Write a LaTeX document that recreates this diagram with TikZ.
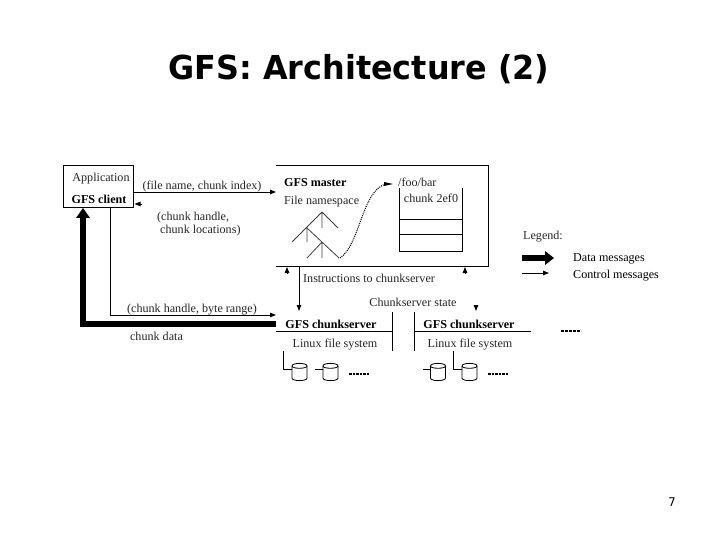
\documentclass[tikz,border=0pt]{standalone}
\usepackage{fontspec}
\setmainfont{Liberation Serif}
\newfontfamily\titlefont[FakeStretch=0.965]{DejaVu Sans}
\usetikzlibrary{arrows.meta,calc}
\tikzset{
  lbl/.style={inner sep=0pt,yshift=-1.3pt,font=\fontsize{12.1}{14}\selectfont,text=black!85},
  blbl/.style={lbl,font=\fontsize{12.1}{14}\selectfont\bfseries,text=black},
  thin line/.style={draw=black,line width=0.9pt},
  ctrl/.style={thin line,-{Triangle[length=6pt,width=4.5pt]}},
  disk/.pic={
    \draw[black,line width=0.8pt] (0,0) -- (0,12) .. controls (0,15.5) and (15,15.5) .. (15,12) -- (15,0)
      .. controls (15,-3.5) and (0,-3.5) .. (0,0);
    \draw[black,line width=0.8pt] (0,12) .. controls (0,9) and (15,9) .. (15,12);
  },
}
\begin{document}
\begin{tikzpicture}[x=1pt,y=-1pt]
\useasboundingbox[fill=white] (0,0) rectangle (720,540);
% title and page number
\node[inner sep=0pt,font=\titlefont\fontsize{33}{38}\selectfont\bfseries] (title) at (359,69) {GFS: Architecture (2)};
\node[inner sep=0pt,font=\titlefont\fontsize{12}{14}\selectfont] (page) at (672,502) {7};
% client
\node[draw,line width=0.9pt,minimum width=70pt,minimum height=42pt,inner sep=0pt] (client) at (98,186.5) {};
\node[lbl] (app) at (101,177) {Application};
\node[blbl,yshift=1.3pt] (gfsc) at (99,199) {GFS client};
% master outline
\coordinate (mtl) at (276,165);
\coordinate (mtr) at (488,165);
\coordinate (mbr) at (488,266);
\coordinate (mbl) at (276,266);
\draw[thin line] (mtl) -- (mtr) -- (mbr) -- (mbl);
\node[blbl,anchor=west] (gfsm) at (284,181) {GFS master};
\node[lbl,anchor=west] (ns) at (284,200) {File namespace};
\node[lbl,anchor=west] (foo) at (398,181) {/foo/bar};
% chunk table
\draw[thin line] (399,188) -- (399,251) -- (462,251) -- (462,188);
\draw[thin line] (399,219) -- (462,219) (399,234) -- (462,234);
\node[lbl] (c2ef) at (431,197) {chunk 2ef0};
% tree
\draw[black!75,line width=0.8pt]
  (322,212) -- (292,242) (322,212) -- (338,228) (322,212) -- (322,228)
  (307,228) -- (307,242) (307,228) -- (339,258)
  (322,242) -- (307,258) (322,242) -- (322,258);
% dotted curve
\coordinate (treeend) at (340,258);
\draw[black,line width=1pt,densely dotted] (treeend) .. controls (360,245) and (362,190) .. (386,184);
\fill (384,182) -- (393,184) -- (384,186) -- cycle;
% client <-> master
\coordinate (f1) at (276,192);
\draw[ctrl] (client.east |- f1) -- (f1);
\coordinate (r1a) at (142,204);
\coordinate (r1b) at (134.5,204);
\draw[ctrl] (r1a) -- (r1b);
\node[lbl] (fn) at (202,185) {(file name, chunk index)};
\node[lbl,align=left,anchor=north west] (handle) at (157,210.5) {(chunk handle,\\[-1pt]\ chunk locations)};
% client -> chunkserver
\coordinate (cbot) at (110,207);
\coordinate (ccor) at (110,315);
\coordinate (cend) at (276,315);
\draw[ctrl] (cbot) -- (ccor) -- (cend);
\node[lbl] (range) at (192,308) {(chunk handle, byte range)};
% chunk data
\coordinate (dstart) at (276,324);
\coordinate (dcor) at (83,324);
\coordinate (dend) at (83,208);
\draw[line width=6pt,line join=miter] (dstart) -- (dcor) -- (83,218);
\fill (76,218) -- (dend) -- (90,218) -- cycle;
\node[lbl] (cdata) at (156.5,335.5) {chunk data};
% instructions & state
\coordinate (i1) at (299,266);
\coordinate (i2) at (299,311);
\draw[ctrl] (i1) -- (i2);
\node[lbl,anchor=west] (inst) at (303,277) {Instructions to chunkserver};
\coordinate (u1a) at (287,273);
\coordinate (u1b) at (287,267);
\draw[ctrl] (u1a) -- (u1b);
\coordinate (u2a) at (465,273);
\coordinate (u2b) at (465,267);
\draw[ctrl] (u2a) -- (u2b);
\node[lbl] (state) at (413,301) {Chunkserver state};
\coordinate (d2a) at (476,305);
\coordinate (d2b) at (476,311);
\draw[ctrl] (d2a) -- (d2b);
% chunkservers
\draw[thin line] (276,331) -- (392,331) (392,312) -- (392,351);
\draw[thin line] (414,331) -- (531,331) (414,312) -- (414,351);
\node[blbl] (cs1) at (331,323) {GFS chunkserver};
\node[blbl] (cs2) at (469,323) {GFS chunkserver};
\node[lbl] (fs1) at (335,343) {Linux file system};
\node[lbl] (fs2) at (470,343) {Linux file system};
\draw[black,line width=2pt,dash pattern=on 2.6pt off 1.4pt] (561,331) -- (581,331);
% disks
\draw[thin line] (283,351) -- (283,369) -- (292,369);
\draw[thin line] (315,369) -- (323,369);
\draw[thin line] (423,369) -- (430,369);
\draw[thin line] (453,351) -- (453,369) -- (462,369);
\pic at (292,378) [yscale=-1] {disk};
\pic at (323,378) [yscale=-1] {disk};
\pic at (430.5,378) [yscale=-1] {disk};
\pic at (462,378) [yscale=-1] {disk};
\draw[black,line width=1.2pt,dash pattern=on 2.5pt off 1pt] (349,374) -- (369,374);
\draw[black,line width=1.2pt,dash pattern=on 2.5pt off 1pt] (488,374) -- (508,374);
% legend
\node[lbl,anchor=west] (leg) at (523,235) {Legend:};
\coordinate (l1a) at (522,258);
\coordinate (l1b) at (546,258);
\draw[line width=6pt] (l1a) -- (l1b);
\fill (545,251) -- (554,258) -- (545,265) -- cycle;
\coordinate (l2a) at (522,273);
\coordinate (l2b) at (549,273);
\draw[ctrl] (l2a) -- (l2b);
\node[lbl,anchor=west,text=black] (dm) at (573,258) {Data messages};
\node[lbl,anchor=west,text=black] (cm) at (573,274) {Control messages};
\end{tikzpicture}
\end{document}
